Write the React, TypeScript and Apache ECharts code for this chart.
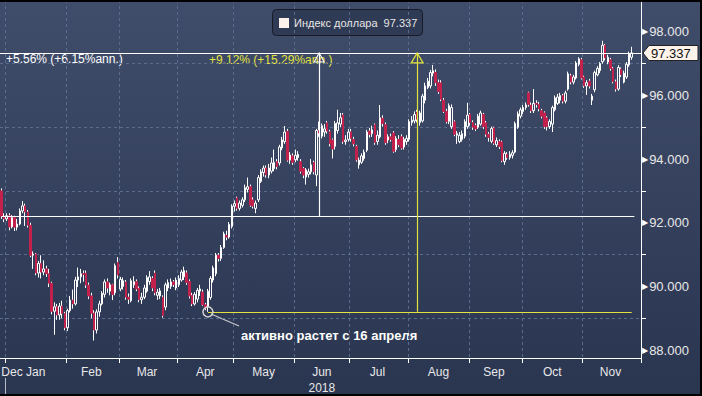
import React, { useEffect, useRef } from "react";
import * as echarts from "echarts";

// ---------- categories: trading days (weekdays) 28 Dec 2017 .. 30 Nov 2018 ----------
function buildTradingDays(): string[] {
  const out: string[] = [];
  const d = new Date(Date.UTC(2017, 11, 28));
  const end = Date.UTC(2018, 10, 30);
  while (d.getTime() <= end) {
    const wd = d.getUTCDay();
    if (wd !== 0 && wd !== 6) out.push(d.toISOString().slice(0, 10));
    d.setUTCDate(d.getUTCDate() + 1);
  }
  return out;
}
const dates = buildTradingDays();
const monthNames = ["Jan", "Feb", "Mar", "Apr", "May", "Jun", "Jul", "Aug", "Sep", "Oct", "Nov", "Dec"];
const yearLabel = "2018";

// ---------- daily candles: [open, close, low, high] ----------
const ohlc: number[][] = [
  [93.0, 92.2, 92.12, 93.08], [92.2, 92.12, 92.02, 92.3], [92.12, 92.22, 92.05, 92.3], [92.22, 91.87, 91.76, 92.3],
  [91.87, 92.16, 91.82, 92.24], [92.16, 91.86, 91.74, 92.22], [91.86, 91.96, 91.76, 92.12], [91.96, 92.37, 91.92, 92.45],
  [92.37, 92.53, 92.3, 92.68], [92.53, 92.34, 91.9, 92.6], [92.34, 91.92, 91.85, 92.4], [91.92, 90.98, 90.92, 92.0],
  [90.98, 91.02, 90.55, 91.1], [91.02, 90.42, 90.35, 91.05], [90.42, 90.72, 90.28, 90.8], [90.72, 90.45, 90.25, 90.98],
  [90.45, 90.55, 90.35, 90.82], [90.55, 90.4, 90.3, 90.65], [90.4, 90.1, 89.98, 90.55], [90.1, 89.22, 89.12, 90.15],
  [89.22, 89.36, 88.48, 89.5], [89.36, 89.1, 88.95, 89.45], [89.1, 89.38, 88.95, 89.48], [89.38, 89.15, 89.0, 89.55],
  [89.15, 88.7, 88.62, 89.2], [88.7, 89.24, 88.6, 89.3], [89.24, 89.57, 89.18, 89.7], [89.57, 89.45, 89.3, 89.9],
  [89.45, 90.2, 89.4, 90.3], [90.2, 90.3, 89.98, 90.59], [90.3, 90.4, 90.1, 90.55], [90.4, 90.38, 90.15, 90.5],
  [90.42, 90.04, 89.95, 90.5], [90.04, 89.7, 89.6, 90.12], [89.7, 89.16, 89.0, 89.8], [89.16, 88.63, 88.3, 89.25],
  [88.63, 89.2, 88.52, 89.28], [89.2, 89.45, 89.05, 89.55], [89.45, 89.78, 89.4, 89.85], [89.75, 90.14, 89.65, 90.22],
  [90.14, 89.95, 89.8, 90.25], [89.85, 90.05, 89.72, 90.12], [90.05, 89.75, 89.57, 90.08], [89.8, 90.65, 89.72, 90.72],
  [90.75, 90.36, 90.25, 90.92], [89.92, 90.22, 89.85, 90.3], [90.0, 90.18, 89.9, 90.28], [90.14, 89.66, 89.58, 90.2],
  [89.66, 89.6, 89.45, 89.78], [89.55, 90.18, 89.5, 90.25], [90.05, 90.15, 89.95, 90.32], [90.15, 89.92, 89.85, 90.22],
  [89.94, 89.58, 89.5, 90.0], [89.58, 89.66, 89.45, 89.8], [89.66, 89.95, 89.6, 90.05], [89.85, 90.28, 89.8, 90.35],
  [90.15, 90.3, 90.05, 90.48], [90.25, 89.95, 89.85, 90.32], [90.42, 89.8, 89.72, 90.5], [89.72, 89.82, 89.58, 89.92],
  [89.7, 89.86, 89.6, 89.95], [89.66, 89.08, 89.02, 89.72], [89.35, 90.05, 89.25, 90.12], [89.95, 90.12, 89.85, 90.22],
  [90.0, 90.14, 89.92, 90.25], [90.14, 90.06, 89.98, 90.2], [89.95, 90.2, 89.88, 90.28], [90.05, 90.25, 89.98, 90.35],
  [90.2, 90.45, 90.15, 90.52], [90.3, 90.5, 90.2, 90.62], [90.42, 90.12, 90.05, 90.5], [90.15, 89.7, 89.62, 90.22],
  [89.72, 89.45, 89.38, 89.8], [89.45, 89.75, 89.4, 89.82], [89.6, 89.88, 89.5, 89.95], [89.85, 89.92, 89.7, 90.05],
  [89.82, 89.42, 89.38, 89.9], [89.42, 89.32, 89.25, 89.48], [89.36, 89.85, 89.2, 89.92], [89.65, 90.25, 89.58, 90.32],
  [90.2, 90.58, 90.12, 90.65], [90.4, 90.98, 90.32, 91.05], [90.98, 90.88, 90.78, 91.05], [90.88, 91.22, 90.8, 91.3],
  [91.22, 91.65, 91.18, 91.72], [91.6, 91.55, 91.45, 91.75], [91.55, 91.95, 91.5, 92.02], [91.88, 92.52, 91.82, 92.58],
  [92.52, 92.6, 92.35, 92.7], [92.78, 92.45, 92.38, 92.82], [92.45, 92.62, 92.38, 92.7], [92.55, 92.72, 92.48, 92.8],
  [92.72, 93.1, 92.65, 93.2], [93.05, 93.13, 92.95, 93.42], [93.13, 92.55, 92.5, 93.2], [92.72, 92.52, 92.45, 92.8],
  [92.45, 92.62, 92.3, 92.7], [92.72, 93.42, 92.65, 93.5], [93.3, 93.6, 93.25, 93.68], [93.58, 93.72, 93.45, 93.8],
  [93.72, 93.5, 93.42, 93.8], [93.5, 93.72, 93.4, 93.85], [93.62, 93.88, 93.55, 94.05], [93.7, 93.9, 93.62, 94.3],
  [93.92, 93.76, 93.68, 94.0], [93.88, 94.38, 93.8, 94.45], [94.35, 94.6, 94.28, 94.7], [94.55, 94.85, 94.48, 95.04],
  [94.87, 93.97, 93.92, 94.95], [93.97, 94.13, 93.85, 94.22], [94.1, 93.9, 93.82, 94.18], [93.98, 94.12, 93.9, 94.3],
  [94.05, 94.15, 93.95, 94.25], [93.92, 93.62, 93.55, 94.0], [93.7, 93.5, 93.4, 93.75], [93.44, 93.66, 93.2, 93.72],
  [93.52, 93.6, 93.42, 93.7], [93.6, 93.82, 93.52, 94.0], [93.9, 93.6, 93.52, 93.95], [93.5, 94.9, 93.15, 94.95],
  [94.9, 94.82, 94.7, 95.18], [94.72, 95.05, 94.65, 95.12], [94.85, 94.95, 94.7, 95.1], [95.14, 94.88, 94.8, 95.2],
  [94.86, 94.48, 94.4, 94.92], [94.6, 94.32, 94.02, 94.65], [94.4, 95.12, 94.3, 95.2], [94.9, 95.14, 94.8, 95.55],
  [95.1, 95.3, 95.0, 95.45], [95.39, 94.55, 94.48, 95.45], [94.55, 94.6, 94.45, 94.75], [94.62, 94.85, 94.55, 94.95],
  [94.86, 94.65, 94.55, 94.95], [94.62, 94.48, 94.4, 94.7], [94.4, 93.98, 93.92, 94.45], [93.82, 93.97, 93.7, 94.05],
  [93.9, 94.1, 93.85, 94.18], [94.02, 94.22, 93.95, 94.3], [94.28, 94.85, 94.22, 94.92], [94.88, 94.78, 94.68, 94.98],
  [94.8, 94.92, 94.7, 95.05], [95.08, 94.52, 94.45, 95.12], [94.55, 94.75, 94.45, 94.9], [94.7, 95.3, 94.65, 95.7],
  [95.28, 95.12, 95.02, 95.38], [95.08, 94.52, 94.45, 95.15], [94.6, 94.7, 94.5, 94.78], [94.7, 94.62, 94.55, 94.8],
  [94.82, 94.25, 94.2, 94.88], [94.3, 94.65, 94.22, 94.72], [94.62, 94.45, 94.38, 94.75], [94.7, 94.35, 94.3, 94.78],
  [94.38, 94.62, 94.3, 94.7], [94.55, 94.65, 94.45, 94.75], [94.62, 95.18, 94.55, 95.25], [95.15, 95.22, 95.05, 95.35],
  [95.2, 95.4, 95.12, 95.5], [95.48, 95.25, 95.15, 95.55], [95.15, 95.45, 95.05, 95.52], [95.2, 95.98, 95.15, 96.05],
  [95.85, 96.3, 95.75, 96.4], [96.25, 96.45, 96.2, 96.55], [96.3, 96.72, 96.22, 96.8], [96.7, 96.78, 96.6, 96.96],
  [96.72, 96.4, 96.3, 96.82], [96.4, 96.12, 96.05, 96.5], [96.4, 95.88, 95.82, 96.48], [95.85, 95.5, 95.45, 95.92],
  [95.5, 95.18, 95.12, 95.58], [95.18, 95.68, 95.1, 95.75], [95.02, 95.62, 94.95, 95.72], [95.17, 94.78, 94.72, 95.22],
  [94.75, 94.8, 94.48, 94.88], [94.55, 94.75, 94.5, 94.85], [94.62, 94.8, 94.55, 94.9], [94.72, 95.18, 94.65, 95.25],
  [95.02, 95.38, 94.95, 95.77], [95.4, 95.15, 95.05, 95.45], [95.15, 95.0, 94.92, 95.22], [95.05, 94.95, 94.88, 95.12],
  [95.0, 95.35, 94.95, 95.42], [95.1, 95.45, 95.05, 95.52], [95.4, 95.02, 94.95, 95.45], [95.14, 94.78, 94.7, 95.2],
  [94.78, 94.68, 94.55, 94.85], [94.56, 94.96, 94.5, 95.02], [94.98, 94.5, 94.45, 95.02], [94.45, 94.58, 94.38, 94.68],
  [94.55, 94.4, 94.32, 94.62], [94.54, 93.95, 93.9, 94.58], [93.92, 94.18, 93.82, 94.25], [94.15, 94.05, 93.98, 94.22],
  [94.05, 94.15, 93.98, 94.25], [94.12, 94.2, 94.02, 94.28], [94.22, 95.12, 94.18, 95.18], [95.0, 95.42, 94.95, 95.5],
  [95.35, 95.55, 95.28, 95.62], [95.5, 95.62, 95.42, 95.7], [95.62, 95.7, 95.55, 95.78], [96.08, 95.72, 95.65, 96.12],
  [95.7, 95.52, 95.45, 95.78], [95.52, 95.75, 95.45, 96.2], [95.75, 95.72, 95.62, 95.85], [95.72, 95.58, 95.5, 95.8],
  [95.52, 95.35, 95.28, 95.58], [95.45, 95.02, 94.95, 95.5], [95.3, 95.02, 94.9, 95.35], [95.02, 95.18, 94.95, 95.25],
  [95.1, 95.62, 94.85, 95.68], [95.55, 95.92, 95.5, 96.0], [95.75, 95.95, 95.7, 96.05], [95.85, 96.0, 95.75, 96.08],
  [96.0, 95.82, 95.75, 96.05], [95.82, 96.08, 95.75, 96.15], [96.2, 96.68, 96.15, 96.75], [96.62, 96.42, 96.35, 96.68],
  [96.42, 96.58, 96.35, 96.65], [96.55, 97.02, 96.5, 97.08], [96.98, 97.15, 96.92, 97.2], [97.12, 96.55, 96.5, 97.18],
  [96.58, 96.3, 96.24, 96.62], [96.3, 96.4, 96.02, 96.48], [96.45, 96.3, 96.22, 96.52], [95.85, 95.98, 95.7, 96.05],
  [96.18, 96.72, 96.1, 96.78], [96.65, 96.85, 96.6, 96.92], [96.78, 97.0, 96.7, 97.05], [97.06, 97.58, 97.0, 97.72],
  [97.58, 97.18, 97.1, 97.62], [97.05, 97.2, 96.98, 97.28], [97.12, 96.85, 96.78, 97.18], [96.85, 96.43, 96.38, 96.9],
  [96.43, 96.2, 96.12, 96.5], [96.2, 96.88, 96.15, 96.95], [96.83, 96.65, 96.58, 96.88], [96.42, 96.7, 96.38, 96.78],
  [96.58, 96.98, 96.52, 97.05], [96.96, 97.3, 96.9, 97.38], [97.2, 97.337, 97.12, 97.53],
];

// ---------- annotation values ----------
const lastValue = 97.337;
const seriesName = "Индекс доллара";
const baseLevel = 92.21; // white reference level
const aprilLow = 89.2; // yellow reference level
const aprilLowIdx = 78;
const whiteMarkIdx = 120;
const yellowMarkIdx = 157;
const whiteLineEndIdx = 239;
const yellowLineEndIdx = 238;
const whiteText = "+5.56% (+6.15%ann.)";
const yellowText = "+9.12% (+15.29%ann.)";
const noteText = "активно растет с 16 апреля";
const yLabelValues = [88, 90, 92, 94, 96, 98];
const yMinorValues = [89, 91, 93, 95, 97];

const FONT = '"Liberation Sans", Arial, sans-serif';
const WHITE = "#ffffff";
const YELLOW = "#e2e23e";
const RED = "#c2214b";
const GRID = "#5b6b8d";

function monthKey(s: string) {
  return s.slice(0, 7);
}

export default function App() {
  const ref = useRef<HTMLDivElement>(null);

  useEffect(() => {
    if (!ref.current) return;
    const chart = echarts.init(ref.current, undefined, { renderer: "svg" });

    // month groups
    const monthStart = new Set<number>();
    const groups: number[][] = [];
    dates.forEach((d, i) => {
      if (i === 0 || monthKey(d) !== monthKey(dates[i - 1])) {
        if (i > 0) monthStart.add(i);
        groups.push([i, i]);
      } else {
        groups[groups.length - 1][1] = i;
      }
    });
    const labelIdx = new Set<number>();
    groups.forEach(([a, b]) => labelIdx.add(b - a < 3 ? a : Math.floor((a + b) / 2)));

    const wickData = ohlc.map((r) => (r[1] < r[0] ? [r[0], r[1], r[2], r[3]] : "-"));
    const bodyData = ohlc.map((r) =>
      r[1] < r[0] ? [r[0], r[1], Math.min(r[0], r[1]), Math.max(r[0], r[1])] : [r[0], r[1], r[2], r[3]]
    );

    const option: any = {
      animation: false,
      backgroundColor: "transparent",
      grid: { left: 0, right: 61, top: 0, bottom: 38, containLabel: false, outerBoundsMode: "none" },
      xAxis: {
        type: "category",
        data: dates,
        boundaryGap: true,
        axisLine: { show: true, lineStyle: { color: WHITE, width: 1 } },
        axisTick: { show: true, interval: (i: number) => monthStart.has(i), length: 5, lineStyle: { color: WHITE } },
        axisLabel: {
          interval: (i: number) => labelIdx.has(i),
          alignMinLabel: "left",
          formatter: (v: string) => {
            const m = monthNames[parseInt(v.slice(5, 7), 10) - 1];
            return m === "Jun" ? m + "\n" + yearLabel : m;
          },
          color: "#e8e8e8",
          fontFamily: FONT,
          fontSize: 12,
          lineHeight: 16,
          margin: 6,
        },
        splitLine: {
          show: true,
          interval: (i: number) => monthStart.has(i),
          lineStyle: { color: GRID, type: [3, 3], width: 1 },
        },
      },
      yAxis: {
        type: "value",
        position: "right",
        min: 87.75,
        max: 99,
        splitNumber: 5,
        axisLine: { show: true, lineStyle: { color: WHITE, width: 1 } },
        axisTick: { show: true, customValues: yMinorValues, length: 5, lineStyle: { color: WHITE } },
        axisLabel: {
          customValues: yLabelValues,
          margin: 1,
          formatter: (v: number) => {
            if (Math.abs(v - Math.round(v)) > 1e-6 || Math.round(v) % 2 !== 0) return "";
            return "{t|▶}{v|" + v.toFixed(3) + "}";
          },
          rich: {
            t: { fontSize: 8, color: WHITE, fontFamily: "DejaVu Sans", padding: [0, 1, 0, 0] },
            v: { fontSize: 13, color: "#e8e8e8", fontFamily: FONT },
          },
        },
        splitLine: { show: true, lineStyle: { color: GRID, type: [3, 3], width: 1 } },
      },
      series: [
        {
          type: "candlestick",
          name: "wicks",
          data: wickData,
          barWidth: 1,
          silent: true,
          itemStyle: { color: WHITE, color0: WHITE, borderColor: WHITE, borderColor0: WHITE, borderWidth: 1 },
        },
        {
          type: "candlestick",
          name: seriesName,
          data: bodyData,
          barWidth: 2,
          silent: true,
          itemStyle: {
            color: "rgba(0,0,0,0)",
            color0: RED,
            borderColor: WHITE,
            borderColor0: RED,
            borderWidth: 1,
          },
          markLine: {
            silent: true,
            symbol: "none",
            label: { show: false },
            lineStyle: { type: "solid", width: 1 },
            data: [
              { yAxis: lastValue, lineStyle: { color: WHITE, width: 1.2, type: "solid" } },
              [
                { coord: [dates[0], baseLevel], lineStyle: { color: WHITE, width: 1.2, type: "solid" } },
                { coord: [dates[whiteLineEndIdx], baseLevel] },
              ],
              [
                { coord: [dates[aprilLowIdx], aprilLow], lineStyle: { color: YELLOW, width: 1.2, type: "solid" } },
                { coord: [dates[yellowLineEndIdx], aprilLow] },
              ],
              [
                { coord: [dates[whiteMarkIdx], baseLevel], lineStyle: { color: WHITE, width: 1.2, type: "solid" } },
                { coord: [dates[whiteMarkIdx], lastValue] },
              ],
              [
                { coord: [dates[yellowMarkIdx], aprilLow], lineStyle: { color: YELLOW, width: 1.2, type: "solid" } },
                { coord: [dates[yellowMarkIdx], lastValue] },
              ],
            ],
          },
          markPoint: {
            silent: true,
            label: { show: false },
            data: [
              {
                coord: [dates[whiteMarkIdx], lastValue],
                symbol: "triangle",
                symbolSize: [10, 9],
                symbolOffset: [0, "50%"],
                itemStyle: { color: "rgba(0,0,0,0)", borderColor: WHITE, borderWidth: 1 },
              },
              {
                coord: [dates[yellowMarkIdx], lastValue],
                symbol: "triangle",
                symbolSize: [12, 10],
                symbolOffset: [0, "50%"],
                itemStyle: { color: "rgba(0,0,0,0)", borderColor: YELLOW, borderWidth: 1.2 },
              },
              {
                coord: [dates[aprilLowIdx], aprilLow],
                symbol: "circle",
                symbolSize: 10,
                itemStyle: { color: "rgba(0,0,0,0)", borderColor: "#d4d4d4", borderWidth: 1.5 },
              },
            ],
          },
        },
      ],
      graphic: [
        // legend box
        {
          type: "rect",
          shape: { x: 272.5, y: 9.5, width: 150, height: 26, r: 4 },
          style: { fill: "#2f3a54", stroke: "#161b27", lineWidth: 1 },
          silent: true,
        },
        { type: "rect", shape: { x: 279, y: 18, width: 10, height: 10 }, style: { fill: "#fdf1ec" }, silent: true },
        {
          type: "text",
          x: 294,
          y: 23,
          style: {
            text: seriesName + "  " + lastValue.toFixed(3),
            fill: "#e6e6e6",
            font: "11px " + FONT,
            verticalAlign: "middle",
            textVerticalAlign: "middle",
          },
          silent: true,
        },
        // performance texts
        {
          type: "text",
          x: 6,
          y: 59,
          style: { text: whiteText, fill: WHITE, font: "12px " + FONT, verticalAlign: "middle", textVerticalAlign: "middle" },
          silent: true,
        },
        {
          type: "text",
          x: 209,
          y: 60,
          style: { text: yellowText, fill: YELLOW, font: "12px " + FONT, verticalAlign: "middle", textVerticalAlign: "middle" },
          silent: true,
        },
        // last price tag
        {
          type: "polygon",
          shape: { points: [[643, 53], [649, 45.5], [698, 45.5], [698, 60.5], [649, 60.5]] },
          style: { fill: "#fdf3ea", stroke: "#222222", lineWidth: 1 },
          silent: true,
        },
        {
          type: "text",
          x: 651,
          y: 53.5,
          style: { text: lastValue.toFixed(3), fill: "#111111", font: "13px " + FONT, verticalAlign: "middle", textVerticalAlign: "middle" },
          silent: true,
        },
        // annotation pointer + note
        {
          type: "line",
          shape: { x1: 211, y1: 314, x2: 239, y2: 326 },
          style: { stroke: "#c8c8c8", lineWidth: 1.2 },
          silent: true,
        },
        {
          type: "text",
          x: 241,
          y: 335,
          style: { text: noteText, fill: WHITE, font: "bold 13px " + FONT, verticalAlign: "middle", textVerticalAlign: "middle" },
          silent: true,
        },
        // year separator under the axis
        {
          type: "line",
          shape: { x1: 5.5, y1: 378, x2: 5.5, y2: 396 },
          style: { stroke: "#b8bcc8", lineWidth: 1 },
          silent: true,
        },
      ],
    };

    chart.setOption(option);
    return () => chart.dispose();
  }, []);

  return (
    <div
      style={{
        position: "fixed",
        left: 0,
        top: 0,
        width: 702,
        height: 396,
        background: "linear-gradient(180deg, #404d6a 0%, #35415d 50%, #2a3550 100%)",
        overflow: "hidden",
      }}
    >
      <div ref={ref} style={{ position: "absolute", left: 0, top: 0, width: 702, height: 396 }} />
      <div style={{ position: "absolute", left: 0, top: 0, width: 702, height: 2, background: "#000" }} />
      <div style={{ position: "absolute", right: 0, top: 0, width: 2, height: 396, background: "#000" }} />
      <div style={{ position: "absolute", left: 0, bottom: 0, width: 702, height: 2, background: "#000" }} />
    </div>
  );
}
